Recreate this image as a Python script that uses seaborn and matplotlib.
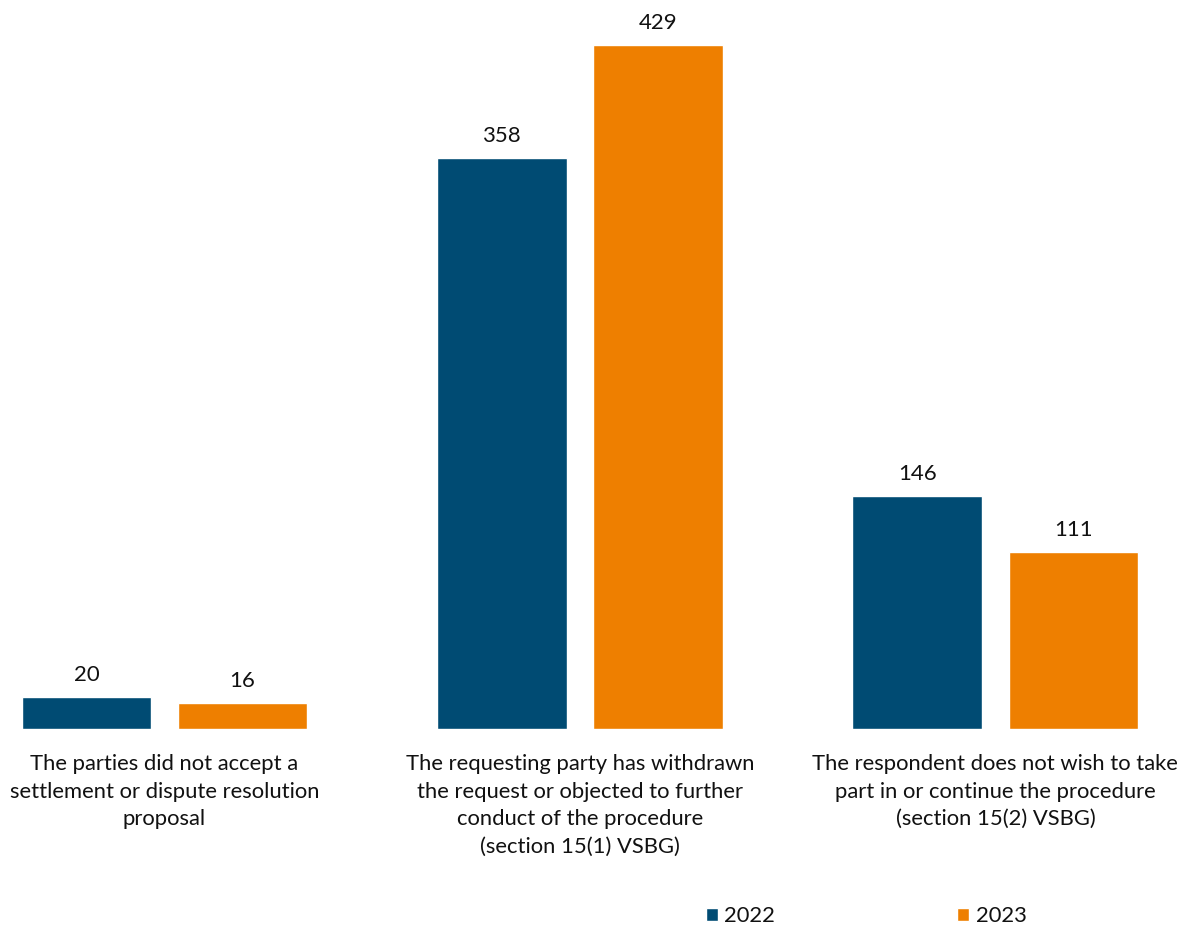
import matplotlib
matplotlib.use("Agg")
import matplotlib.pyplot as plt
import seaborn as sns
import pandas as pd

categories = [
    "The parties did not accept a\nsettlement or dispute resolution\nproposal",
    "The requesting party has withdrawn\nthe request or objected to further\nconduct of the procedure\n(section 15(1) VSBG)",
    "The respondent does not wish to take\npart in or continue the procedure\n(section 15(2) VSBG)",
]
years = ["2022", "2023"]
values_2022 = [20, 358, 146]
values_2023 = [16, 429, 111]
colors = {"2022": "#004B73", "2023": "#EE7F00"}

df = pd.DataFrame({
    "category": categories * 2,
    "year": [years[0]] * 3 + [years[1]] * 3,
    "count": values_2022 + values_2023,
})

sns.set_theme(style="white")
plt.rcParams["font.family"] = ["Lato", "DejaVu Sans"]

fig = plt.figure(figsize=(11.84, 9.26), dpi=100)
ax = fig.add_axes([0, 197 / 926, 1, 729 / 926])

sns.barplot(data=df, x="category", y="count", hue="year", palette=colors,
            order=categories, hue_order=years, width=0.752, gap=0.17,
            saturation=1, ax=ax, legend=True)

for cont in ax.containers:
    ax.bar_label(cont, padding=9, fontsize=16, color="#111111")

ax.set_xlim(-0.396, 2.454)
ax.set_ylim(0, 457.3)
ax.set_xlabel("")
ax.set_ylabel("")
ax.set_yticks([])
ax.tick_params(axis="x", length=0, pad=18, labelsize=15.8, labelcolor="#111111")
for lbl in ax.get_xticklabels():
    lbl.set_linespacing(1.47)
for side in ["top", "right", "left", "bottom"]:
    ax.spines[side].set_visible(False)

handles, labels = ax.get_legend_handles_labels()
ax.legend_.remove()
fig.legend(handles, labels, loc="center left", bbox_to_anchor=(686 / 1184, 1 - 916 / 926),
           ncol=2, frameon=False, fontsize=15.8, handlelength=0.55, handleheight=0.55,
           handletextpad=0.3, columnspacing=8.3, labelcolor="#111111")

fig.savefig("out.png", dpi=100)
